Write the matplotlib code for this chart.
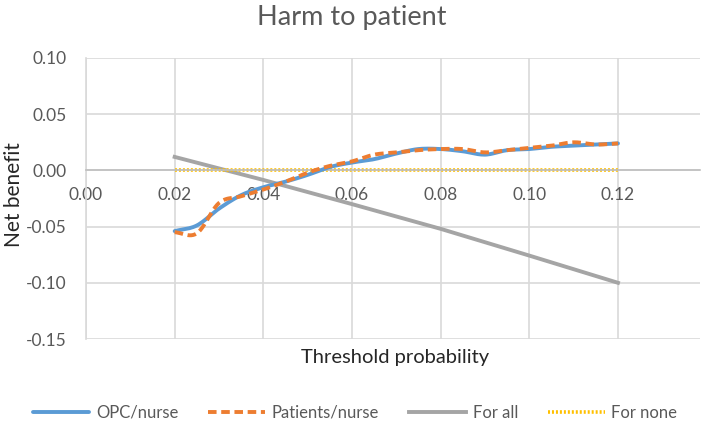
import numpy as np
import matplotlib
matplotlib.use("Agg")
import matplotlib.pyplot as plt

plt.rcParams['font.family'] = ['Lato', 'DejaVu Sans']

threshold = [0.020, 0.025, 0.030, 0.035, 0.040, 0.045, 0.050, 0.055, 0.060, 0.065, 0.070,
             0.075, 0.080, 0.085, 0.090, 0.095, 0.100, 0.105, 0.110, 0.115, 0.120]
opc_nurse = [-0.054, -0.049, -0.034, -0.022, -0.015, -0.010, -0.004, 0.003, 0.007, 0.010, 0.015,
             0.019, 0.019, 0.017, 0.014, 0.018, 0.019, 0.021, 0.022, 0.023, 0.024]
patients_nurse = [-0.055, -0.056, -0.029, -0.023, -0.017, -0.010, -0.002, 0.004, 0.008, 0.014, 0.016,
                  0.018, 0.019, 0.019, 0.016, 0.018, 0.020, 0.022, 0.025, 0.023, 0.024]
all_x = [0.02, 0.04, 0.06, 0.08, 0.10, 0.12]
for_all = [0.012, -0.0085, -0.030, -0.052, -0.0758, -0.100]
none_x = [0.02, 0.12]
for_none = [0.0, 0.0]

xticks = [0.00, 0.02, 0.04, 0.06, 0.08, 0.10, 0.12]
yticks = [-0.15, -0.10, -0.05, 0.00, 0.05, 0.10]


def smooth(x, y, n=12):
    x = np.asarray(x, float); y = np.asarray(y, float)
    px = np.concatenate([[2*x[0]-x[1]], x, [2*x[-1]-x[-2]]])
    py = np.concatenate([[2*y[0]-y[1]], y, [2*y[-1]-y[-2]]])
    xs, ys = [], []
    t = np.linspace(0, 1, n, endpoint=False)
    for i in range(1, len(px)-2):
        for arr, out in ((px, xs), (py, ys)):
            p0, p1, p2, p3 = arr[i-1], arr[i], arr[i+1], arr[i+2]
            out.extend(0.5*((2*p1) + (-p0+p2)*t + (2*p0-5*p1+4*p2-p3)*t**2 + (-p0+3*p1-3*p2+p3)*t**3))
    xs.append(x[-1]); ys.append(y[-1])
    return np.array(xs), np.array(ys)


fig = plt.figure(figsize=(7.03, 4.24), dpi=100)
ax = fig.add_axes([86/703, 1-339/424, (700-86)/703, (339-58)/424])

txt = '#595959'
grid = '#D9D9D9'

sx, sy = smooth(threshold, opc_nurse)
ax.plot(sx, sy, color='#5B9BD5', lw=2.8, label='OPC/nurse', solid_capstyle='round', zorder=3)
sx, sy = smooth(threshold, patients_nurse)
ax.plot(sx, sy, color='#ED7D31', lw=2.8, ls=(0, (2.2, 1.2)), label='Patients/nurse', zorder=4)
ax.plot(all_x, for_all, color='#A5A5A5', lw=2.8, label='For all', zorder=2)
ax.plot(none_x, for_none, color='#FFC000', lw=2.6, ls=(0, (0.55, 0.55)), label='For none', zorder=2)

ax.set_xlim(0, 0.1385)
ax.set_ylim(-0.15, 0.10)
ax.set_xticks(xticks)
ax.set_yticks(yticks)
ax.set_xticklabels([f'{v:.2f}' for v in xticks])
ax.set_yticklabels([f'{v:.2f}' for v in yticks])
ax.grid(True, color=grid, lw=1.2)
ax.set_axisbelow(True)
for s in ['top', 'right']:
    ax.spines[s].set_visible(False)
ax.spines['left'].set_color(grid)
ax.spines['left'].set_linewidth(1.2)
ax.spines['bottom'].set_position(('data', 0))
ax.spines['bottom'].set_color('#BFBFBF')
ax.spines['bottom'].set_linewidth(1.2)
ax.tick_params(length=0, labelsize=12.5, colors=txt)
ax.tick_params(axis='x', pad=12)
ax.tick_params(axis='y', pad=14)

fig.text(0.5, 1-18/424, 'Harm to patient', ha='center', va='center', fontsize=19.5, color=txt)
fig.text(395/703, 1-357/424, 'Threshold probability', ha='center', va='center', fontsize=14.5, color='#262626')
fig.text(14/703, 1-195/424, 'Net benefit', ha='center', va='center', rotation=90, fontsize=15, color='#262626')

leg = fig.legend(loc='center', bbox_to_anchor=(355/703, 1-413/424), ncol=4, frameon=False,
                 fontsize=12, handlelength=3.4, columnspacing=1.8, handletextpad=0.4)
for t in leg.get_texts():
    t.set_color(txt)

fig.savefig('out.png', dpi=100)
